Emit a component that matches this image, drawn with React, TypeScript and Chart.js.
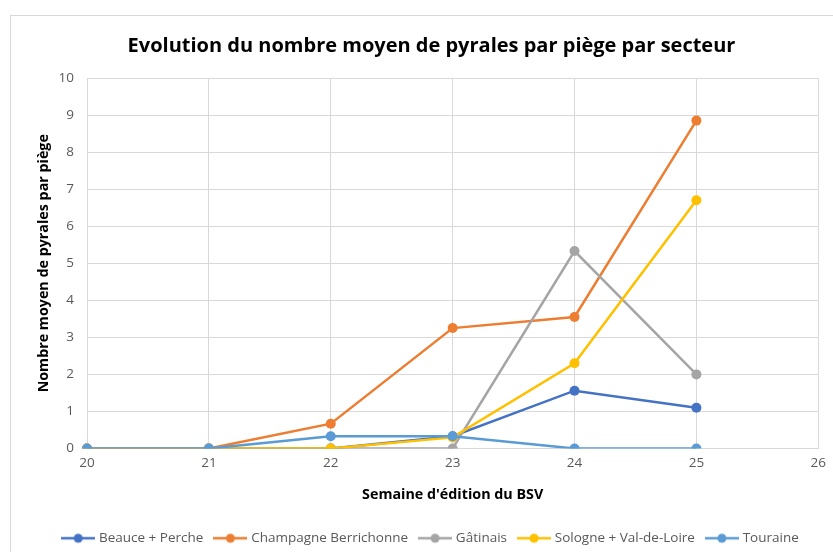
import React, { useEffect, useRef } from "react";
import { Chart, registerables } from "chart.js";

Chart.register(...registerables);

const weeks = ["20", "21", "22", "23", "24", "25", "26"];
const seriesNames = ["Beauce + Perche", "Champagne Berrichonne", "Gâtinais", "Sologne + Val-de-Loire", "Touraine"];
const beauce = [0, 0, 0, 0.33, 1.56, 1.1];
const champagne = [0, 0, 0.67, 3.25, 3.55, 8.85];
const gatinais = [0, 0, 0, 0, 5.33, 2];
const sologne = [0, 0, 0, 0.3, 2.3, 6.7];
const touraine = [0, 0, 0.33, 0.33, 0, 0];
const colors = ["#4472C4", "#ED7D31", "#A5A5A5", "#FFC000", "#5B9BD5"];
const yTicks = [0, 1, 2, 3, 4, 5, 6, 7, 8, 9, 10];

const FONT = "'Open Sans', 'Noto Sans', sans-serif";

function legendIcon(color: string): HTMLCanvasElement {
  const c = document.createElement("canvas");
  c.width = 34;
  c.height = 12;
  const ctx = c.getContext("2d")!;
  ctx.strokeStyle = color;
  ctx.lineWidth = 2.5;
  ctx.beginPath();
  ctx.moveTo(0, 6);
  ctx.lineTo(34, 6);
  ctx.stroke();
  ctx.fillStyle = color;
  ctx.beginPath();
  ctx.arc(17, 6, 4.5, 0, Math.PI * 2);
  ctx.fill();
  return c;
}

export default function App() {
  const ref = useRef<HTMLCanvasElement>(null);
  useEffect(() => {
    const all = [beauce, champagne, gatinais, sologne, touraine];
    const icons = colors.map(legendIcon);
    const chart = new Chart(ref.current!, {
      type: "line",
      data: {
        labels: weeks,
        datasets: all.map((d, i) => ({
          label: seriesNames[i],
          data: d,
          borderColor: colors[i],
          backgroundColor: colors[i],
          borderWidth: 2.5,
          pointRadius: 5,
          pointHoverRadius: 5,
          pointBorderWidth: 0,
          tension: 0,
          order: 4 - i,
        })),
      },
      options: {
        responsive: false,
        animation: false,
        layout: { padding: { left: 40, right: 10, top: 0, bottom: -3 } },
        plugins: {
          title: {
            display: true,
            text: "Evolution du nombre moyen de pyrales par piège par secteur",
            color: "#000000",
            font: { family: FONT, size: 20, weight: "bold" },
            padding: { top: 34, bottom: 20 },
          },
          legend: {
            position: "bottom",
            labels: {
              color: "#595959",
              font: { family: FONT, size: 13.5 },
              usePointStyle: true,
              pointStyleWidth: 28,
              padding: 13,
              generateLabels: (ch: any) =>
                ch.data.datasets.map((ds: any, i: number) => ({
                  text: ds.label,
                  fillStyle: colors[i],
                  strokeStyle: colors[i],
                  fontColor: "#595959",
                  pointStyle: icons[i],
                  hidden: false,
                  datasetIndex: i,
                  lineWidth: 0,
                })),
            },
          },
          tooltip: { enabled: false },
        },
        scales: {
          x: {
            type: "category",
            offset: false,
            afterFit: (s: any) => {
              s.height = 70;
            },
            grid: { color: "#d9d9d9", lineWidth: 1, drawTicks: false },
            border: { color: "#d9d9d9" },
            ticks: { color: "#595959", font: { family: FONT, size: 13.5 }, padding: 7, maxRotation: 0 },
            title: {
              display: true,
              text: "Semaine d'édition du BSV",
              color: "#000000",
              font: { family: FONT, size: 14.3, weight: "bold" },
              padding: { top: 8, bottom: 15 },
            },
          },
          y: {
            min: 0,
            max: 10,
            afterBuildTicks: (s: any) => {
              s.ticks = yTicks.map((v) => ({ value: v }));
            },
            afterFit: (s: any) => {
              s.width = 47;
            },
            grid: { color: "#d9d9d9", lineWidth: 1, drawTicks: false },
            border: { color: "#d9d9d9" },
            ticks: { color: "#595959", font: { family: FONT, size: 13.5 }, padding: 13 },
            title: {
              display: true,
              text: "Nombre moyen de pyrales par piège",
              color: "#000000",
              font: { family: FONT, size: 14.3, weight: "bold" },
              padding: { top: -4.6, bottom: 0 },
            },
          },
        },
      },
    });
    return () => chart.destroy();
  }, []);
  return (
    <div style={{ position: "fixed", left: 0, top: 0, width: 833, height: 552, overflow: "hidden", background: "#fff" }}>
      <div
        style={{
          position: "absolute",
          left: 10,
          top: 15,
          width: 900,
          height: 600,
          border: "1px solid #d9d9d9",
          boxSizing: "border-box",
        }}
      />
      <canvas ref={ref} width={833} height={552} style={{ position: "absolute", left: 0, top: 0 }} />
    </div>
  );
}
